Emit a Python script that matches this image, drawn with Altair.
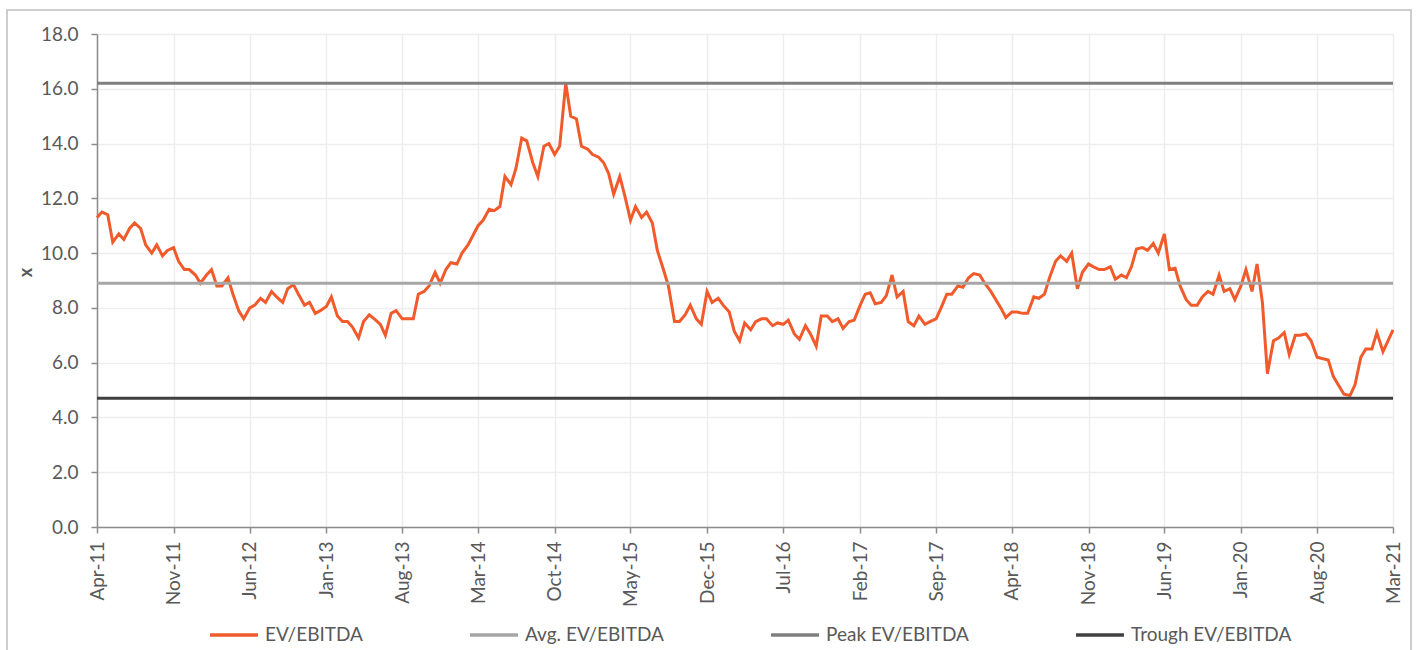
import altair as alt
import pandas as pd

# ---------------- data ----------------
# semi-monthly samples (1st and 15th of each month), Apr-2011 .. Mar-2021
START_DATE = "2011-04-01"
END_DATE = "2021-03-01"
EV_EBITDA = [
    # 2011 (Apr..Dec)
    11.3, 11.5, 11.4, 10.4, 10.7, 10.5, 10.9, 11.1, 10.9, 10.3, 10.0, 10.3,
    9.9, 10.1, 10.2, 9.7, 9.4, 9.4,
    # 2012
    9.2, 8.9, 9.2, 9.4, 8.8, 8.8, 9.1, 8.5, 7.9, 7.6, 8.0, 8.1,
    8.35, 8.2, 8.6, 8.4, 8.2, 8.7, 8.85, 8.5, 8.1, 8.2, 7.8, 7.9,
    # 2013
    8.05, 8.4, 7.7, 7.5, 7.5, 7.3, 6.9, 7.5, 7.75, 7.6, 7.4, 7.0,
    7.8, 7.9, 7.6, 7.6, 7.6, 8.5, 8.6, 8.8, 9.3, 8.9, 9.4, 9.65,
    # 2014
    9.6, 10.0, 10.3, 10.65, 11.0, 11.2, 11.6, 11.55, 11.7, 12.8, 12.5, 13.1,
    14.2, 14.1, 13.3, 12.8, 13.9, 14.0, 13.6, 13.9, 16.2, 15.0, 14.9, 13.9,
    # 2015
    13.8, 13.6, 13.5, 13.3, 12.9, 12.15, 12.8, 12.1, 11.2, 11.7, 11.3, 11.5,
    11.1, 10.1, 9.4, 8.8, 7.5, 7.5, 7.75, 8.1, 7.6, 7.4, 8.6, 8.2,
    # 2016
    8.35, 8.1, 7.85, 7.15, 6.8, 7.45, 7.2, 7.5, 7.6, 7.6, 7.35, 7.45,
    7.4, 7.55, 7.05, 6.85, 7.35, 7.05, 6.6, 7.7, 7.7, 7.5, 7.6, 7.25,
    # 2017
    7.5, 7.55, 8.1, 8.5, 8.55, 8.15, 8.2, 8.45, 9.2, 8.4, 8.6, 7.5,
    7.35, 7.7, 7.4, 7.5, 7.6, 8.0, 8.5, 8.5, 8.8, 8.75, 9.1, 9.25,
    # 2018
    9.2, 8.9, 8.6, 8.3, 8.0, 7.65, 7.85, 7.85, 7.8, 7.8, 8.4, 8.35,
    8.5, 9.1, 9.7, 9.9, 9.7, 10.0, 8.7, 9.3, 9.6, 9.5, 9.4, 9.4,
    # 2019
    9.5, 9.05, 9.2, 9.1, 9.5, 10.15, 10.2, 10.1, 10.35, 10.0, 10.7, 9.4,
    9.45, 8.8, 8.3, 8.1, 8.1, 8.4, 8.6, 8.5, 9.2, 8.6, 8.7, 8.3,
    # 2020
    8.8, 9.4, 8.6, 9.6, 8.2, 5.6, 6.8, 6.9, 7.1, 6.3, 7.0, 7.0,
    7.05, 6.8, 6.2, 6.15, 6.1, 5.5, 5.15, 4.85, 4.8, 5.2, 6.2, 6.5,
    # 2021 (Jan..Mar)
    6.5, 7.1, 6.4, 6.8, 7.2,
]

SERIES_NAMES = ["EV/EBITDA", "Avg. EV/EBITDA", "Peak EV/EBITDA", "Trough EV/EBITDA"]
SERIES_COLORS = ["#F15A2B", "#A6A6A6", "#7F7F7F", "#404040"]
REF_NAMES = ["Avg. EV/EBITDA", "Peak EV/EBITDA", "Trough EV/EBITDA"]
REF_VALUES = [8.9, 16.2, 4.7]

TICK_DATES = [
    "2011-04-01", "2011-11-01", "2012-06-01", "2013-01-01", "2013-08-01",
    "2014-03-01", "2014-10-01", "2015-05-01", "2015-12-01", "2016-07-01",
    "2017-02-01", "2017-09-01", "2018-04-01", "2018-11-01", "2019-06-01",
    "2020-01-01", "2020-08-01", "2021-03-01",
]
Y_TICKS = [0, 2, 4, 6, 8, 10, 12, 14, 16, 18]

# ---------------- build tables ----------------
dates = pd.date_range(START_DATE, END_DATE, freq="SMS")
assert len(dates) == len(EV_EBITDA), (len(dates), len(EV_EBITDA))
main_df = pd.DataFrame({
    "date": dates.strftime("%Y-%m-%d"),
    "value": EV_EBITDA,
    "series": "EV/EBITDA",
})
ref_df = pd.DataFrame({"series": REF_NAMES, "value": REF_VALUES})


def ms(s):
    return int(pd.Timestamp(s).value // 10**6)


FONT = "Lato"
TEXT_COLOR = "#595959"
AXIS_COLOR = "#8C8C8C"

color_scale = alt.Scale(domain=SERIES_NAMES, range=SERIES_COLORS)
color_enc = alt.Color(
    "series:N",
    scale=color_scale,
    legend=alt.Legend(
        title=None,
        orient="none",
        legendX=111,
        legendY=575,
        direction="horizontal",
        columns=4,
        gridAlign="none",
        columnPadding=100,
        symbolType="stroke",
        symbolSize=2300,
        symbolStrokeWidth=3.5,
        labelFontSize=19,
        labelFont=FONT,
        labelColor=TEXT_COLOR,
        labelOffset=5,
        labelLimit=400,
        padding=0,
    ),
)

y_enc = alt.Y(
    "value:Q",
    scale=alt.Scale(domain=[0, 18], nice=False),
    axis=alt.Axis(
        values=Y_TICKS,
        format=".1f",
        title="x",
        titleFont=FONT,
        titleFontSize=18,
        titleFontWeight="bold",
        titleColor=TEXT_COLOR,
        titleAngle=270,
        titleX=-71,
        titleY=238,
        titleAlign="center",
        titleBaseline="middle",
        labelPadding=13,
        tickSize=6,
    ),
)

frame = alt.Chart(pd.DataFrame({"k": [0]})).mark_rect(
    filled=False, stroke="#BFBFBF", strokeWidth=1.5
).encode(
    x=alt.value(-90), x2=alt.value(1314), y=alt.value(-24), y2=alt.value(720)
)

line = alt.Chart(main_df).mark_line(strokeWidth=3).encode(
    x=alt.X(
        "date:T",
        scale=alt.Scale(type="utc", domain=[ms(START_DATE), ms(END_DATE)]),
        axis=alt.Axis(
            values=[ms(d) for d in TICK_DATES],
            labelExpr="utcFormat(datum.value, '%b-%y')",
            labelAngle=270,
            labelAlign="right",
            labelBaseline="middle",
            labelPadding=8,
            tickSize=6,
            title=None,
            labelOverlap=False,
        ),
    ),
    y=y_enc,
    color=color_enc,
)

rules = alt.Chart(ref_df).mark_rule(strokeWidth=3).encode(
    y="value:Q",
    color=color_enc,
)

chart = (
    alt.layer(frame, line, rules)
    .properties(
        width=1296,
        height=493,
        padding={"left": 97, "top": 34, "right": 24, "bottom": 123},
        autosize=alt.AutoSizeParams(type="none"),
        background="white",
    )
    .configure_view(stroke=None)
    .configure_axis(
        labelFont=FONT,
        labelFontSize=19,
        labelColor=TEXT_COLOR,
        domainColor=AXIS_COLOR,
        domainWidth=1.5,
        tickColor=AXIS_COLOR,
        tickWidth=1.5,
        gridColor="#EDEDED",
        gridWidth=1.5,
        grid=True,
    )
)

chart.save("out.html", embed_options={"renderer": "svg", "actions": False})
